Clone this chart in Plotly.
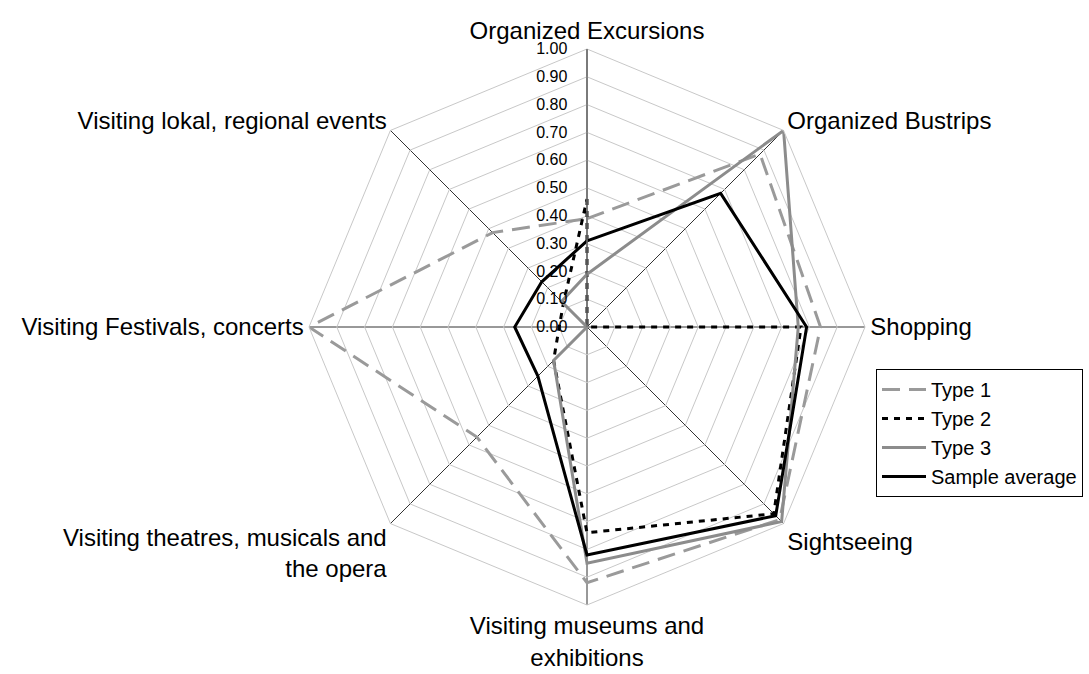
import plotly.graph_objects as go

categories = [
    "Organized Excursions",
    "Organized Bustrips",
    "Shopping",
    "Sightseeing",
    "Visiting museums and<br>exhibitions",
    "Visiting theatres, musicals and<br>the opera",
    "Visiting Festivals, concerts",
    "Visiting lokal, regional events",
]

type1 = [0.39, 0.88, 0.84, 0.98, 0.92, 0.56, 1.00, 0.48]
type2 = [0.46, 0.00, 0.77, 0.95, 0.74, 0.17, 0.10, 0.12]
type3 = [0.19, 1.00, 0.76, 0.99, 0.85, 0.17, 0.00, 0.13]
sample_avg = [0.31, 0.68, 0.79, 0.96, 0.82, 0.25, 0.26, 0.23]

series_names = ["Type 1", "Type 2", "Type 3", "Sample average"]
tick_vals = [i / 10 for i in range(11)]
tick_text = [f"{v:.2f}" + "\u00a0\u00a0\u00a0" for v in tick_vals]

styles = [
    dict(color="#9a9a9a", width=3, dash="18px,9px"),
    dict(color="#000000", width=3, dash="6px,6px"),
    dict(color="#8c8c8c", width=3, dash="solid"),
    dict(color="#000000", width=3, dash="solid"),
]


def closed(vals):
    return list(vals) + [vals[0]]


fig = go.Figure()
for name, vals, st in zip(series_names, [type1, type2, type3, sample_avg], styles):
    fig.add_trace(
        go.Scatterpolar(
            r=closed(vals),
            theta=closed(categories),
            mode="lines",
            name=name,
            line=st,
        )
    )

FONT = "Liberation Sans, Arial, Helvetica, sans-serif"

fig.update_layout(
    width=1089,
    height=674,
    margin=dict(l=0, r=0, t=0, b=0),
    paper_bgcolor="white",
    plot_bgcolor="white",
    font=dict(family=FONT, color="black"),
    polar=dict(
        domain=dict(x=[309 / 1089, 865 / 1089], y=[(674 - 605) / 674, (674 - 49) / 674]),
        gridshape="linear",
        bgcolor="white",
        radialaxis=dict(
            range=[0, 1],
            tickvals=tick_vals,
            ticktext=tick_text,
            angle=90,
            tickangle=90,
            side="counterclockwise",
            showline=True,
            linecolor="#707070",
            linewidth=1.5,
            gridcolor="#c8c8c8",
            gridwidth=1,
            ticks="",
            tickfont=dict(size=16, family=FONT, color="black"),
        ),
        angularaxis=dict(
            direction="clockwise",
            rotation=90,
            categoryorder="array",
            categoryarray=categories,
            showline=True,
            linecolor="#c8c8c8",
            linewidth=1,
            gridcolor="#333333",
            gridwidth=1,
            ticks="",
            tickfont=dict(size=24, family=FONT, color="black"),
        ),
    ),
    showlegend=True,
    legend=dict(
        x=876 / 1089,
        y=(674 - 369) / 674,
        xanchor="left",
        yanchor="top",
        bordercolor="black",
        borderwidth=1,
        bgcolor="white",
        font=dict(size=20, family=FONT, color="black"),
        tracegroupgap=0,
        itemwidth=44,
    ),
)

fig.write_html(
    "out.html",
    config={"displayModeBar": False},
    post_script="document.body.style.margin='0';document.body.style.overflow='hidden';",
)
